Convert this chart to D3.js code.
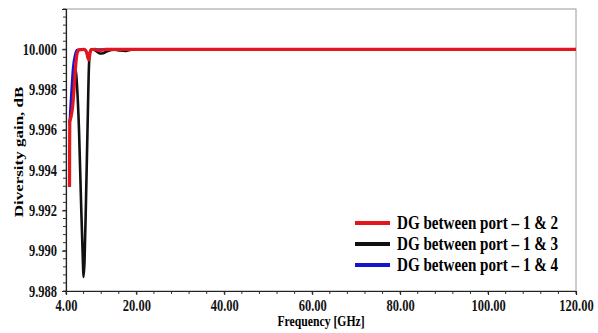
<!DOCTYPE html>
<html>
<head>
<meta charset="utf-8">
<script src="https://cdn.jsdelivr.net/npm/d3@7"></script>
<style>
  body { margin: 0; background: #fff; }
</style>
</head>
<body>
<div id="chart"></div>
<script>
// frequency (GHz) and diversity gain (dB)
const freq12 = [4.80, 4.82, 4.86, 5.14, 5.48, 5.82, 6.16, 6.50, 6.96, 8.10, 8.66, 9.00, 9.23, 9.46, 9.80, 10.6, 11.7, 13.0, 20, 40, 60, 80, 100, 120];
const dg12   = [9.99316, 9.9950, 9.99639, 9.99664, 9.99709, 9.99798, 9.99907, 9.99977, 9.99997, 10.0000, 9.99987, 9.99957, 9.99947, 9.99982, 9.99999, 10.0000, 9.99994, 10.0000, 10.0000, 10.0000, 10.0000, 10.0000, 10.0000, 10.0000];

const freq13 = [4.86, 5.14, 5.59, 5.93, 6.16, 6.50, 6.96, 7.41, 7.87, 7.98, 8.21, 8.55, 8.89, 9.23, 9.46, 9.91, 10.8, 11.7, 12.6, 13.5, 15.1, 16.3, 17.6, 18.6, 19.7, 40, 80, 120];
const dg13   = [9.99639, 9.99689, 9.99798, 9.99882, 9.99897, 9.99822, 9.99599, 9.99252, 9.98929, 9.98870, 9.98944, 9.99252, 9.99599, 9.99922, 9.99987, 10.0000, 9.99992, 9.99979, 9.99982, 9.99992, 9.99998, 9.99994, 9.99992, 9.99997, 10.0000, 10.0000, 10.0000, 10.0000];

const freq14 = [4.80, 4.98, 5.25, 5.59, 6.05, 6.50, 8.10, 8.66, 9.00, 9.23, 9.46, 9.80, 20, 60, 120];
const dg14   = [9.99624, 9.99699, 9.99798, 9.99907, 9.99972, 9.99997, 10.0000, 9.99987, 9.99957, 9.99947, 9.99982, 9.99999, 10.0000, 10.0000, 10.0000];

const xTicks = [4, 20, 40, 60, 80, 100, 120];
const yTicks = [9.988, 9.990, 9.992, 9.994, 9.996, 9.998, 10.000];

const seriesNames = ['DG between port \u2013 1 & 2', 'DG between port \u2013 1 & 3', 'DG between port \u2013 1 & 4'];
const seriesColors = ['#e3161d', '#111111', '#1515d0'];

const serif = '"Liberation Serif"';
const squeeze = 0.78;   // the original figure is horizontally condensed
const width = 598, height = 333;
const margin = { top: 9, right: 22, bottom: 42, left: 66 };

const svg = d3.select('#chart').append('svg')
  .attr('width', width)
  .attr('height', height);

const x = d3.scaleLinear().domain([4, 120]).range([margin.left, width - margin.right]);
const y = d3.scaleLinear().domain([9.988, 10.002]).range([height - margin.bottom, margin.top]);

// frame: grey top / right
svg.append('rect')
  .attr('x', x(4)).attr('y', y(10.002))
  .attr('width', x(120) - x(4)).attr('height', y(9.988) - y(10.002))
  .attr('fill', 'none').attr('stroke', '#9a9a9a').attr('stroke-width', 1);

// minor ticks
const xMinor = d3.range(4, 120.01, 4);
svg.append('g').selectAll('line').data(xMinor).enter().append('line')
  .attr('x1', d => x(d)).attr('x2', d => x(d))
  .attr('y1', y(9.988)).attr('y2', y(9.988) + 3)
  .attr('stroke', '#333').attr('stroke-width', 1);

const yMinor = d3.range(0, 36).map(i => 9.988 + i * 0.0004);
svg.append('g').selectAll('line').data(yMinor).enter().append('line')
  .attr('x1', x(4) - 3).attr('x2', x(4))
  .attr('y1', d => y(d)).attr('y2', d => y(d))
  .attr('stroke', '#333').attr('stroke-width', 1);

// axes
const xAxis = svg.append('g')
  .attr('transform', `translate(0,${y(9.988)})`)
  .call(d3.axisBottom(x).tickValues(xTicks).tickFormat(d3.format('.2f')).tickSize(4));
const yAxis = svg.append('g')
  .attr('transform', `translate(${x(4)},0)`)
  .call(d3.axisLeft(y).tickValues(yTicks).tickFormat(d3.format('.3f')).tickSize(4));

[xAxis, yAxis].forEach(a => {
  a.select('.domain').attr('stroke', '#222').attr('stroke-width', 1.2);
  a.selectAll('.tick line').attr('stroke', '#222');
  a.selectAll('text').attr('fill', '#111')
    .style('font-family', serif).style('font-weight', 'bold').style('font-size', '16px')
    .attr('transform', `scale(${squeeze},1)`);
});
xAxis.selectAll('text').attr('y', 20).attr('dy', null);
yAxis.selectAll('text').attr('x', -9 / squeeze);

// curves
const line = d3.line()
  .x(d => x(d[0]))
  .y(d => y(d[1]))
  .curve(d3.curveMonotoneX);

const series = [
  { f: freq13, v: dg13, c: seriesColors[1], w: 2.6 },
  { f: freq14, v: dg14, c: seriesColors[2], w: 2.4 },
  { f: freq12, v: dg12, c: seriesColors[0], w: 3.2 }
];

svg.append('g').selectAll('path').data(series).enter().append('path')
  .attr('d', s => line(d3.zip(s.f, s.v)))
  .attr('fill', 'none')
  .attr('stroke', s => s.c)
  .attr('stroke-width', s => s.w)
  .attr('stroke-linejoin', 'round');

// axis titles
svg.append('text')
  .attr('transform', `translate(321,326) scale(${squeeze},1)`)
  .attr('text-anchor', 'middle')
  .style('font-family', serif).style('font-weight', 'bold')
  .style('font-size', '15px')
  .text('Frequency [GHz]');

svg.append('text')
  .attr('transform', `translate(23,${(y(9.988) + y(10.002)) / 2 + 2}) rotate(-90) scale(1, ${squeeze})`)
  .attr('text-anchor', 'middle')
  .style('font-family', serif).style('font-weight', 'bold')
  .style('font-size', '17px')
  .text('Diversity gain, dB');

// legend
const legend = svg.selectAll('.legend')
  .data(seriesNames)
  .enter().append('g')
  .attr('class', 'legend')
  .attr('transform', (d, i) => `translate(355, ${223 + i * 21})`);

legend.append('line')
  .attr('x1', 0).attr('x2', 35)
  .attr('stroke', (d, i) => seriesColors[i])
  .attr('stroke-width', 4);

legend.append('text')
  .attr('transform', `translate(42,0) scale(0.84,1)`)
  .attr('dy', '0.35em')
  .style('font-family', serif).style('font-weight', 'bold')
  .style('font-size', '18px')
  .text(d => d);
</script>
</body>
</html>
